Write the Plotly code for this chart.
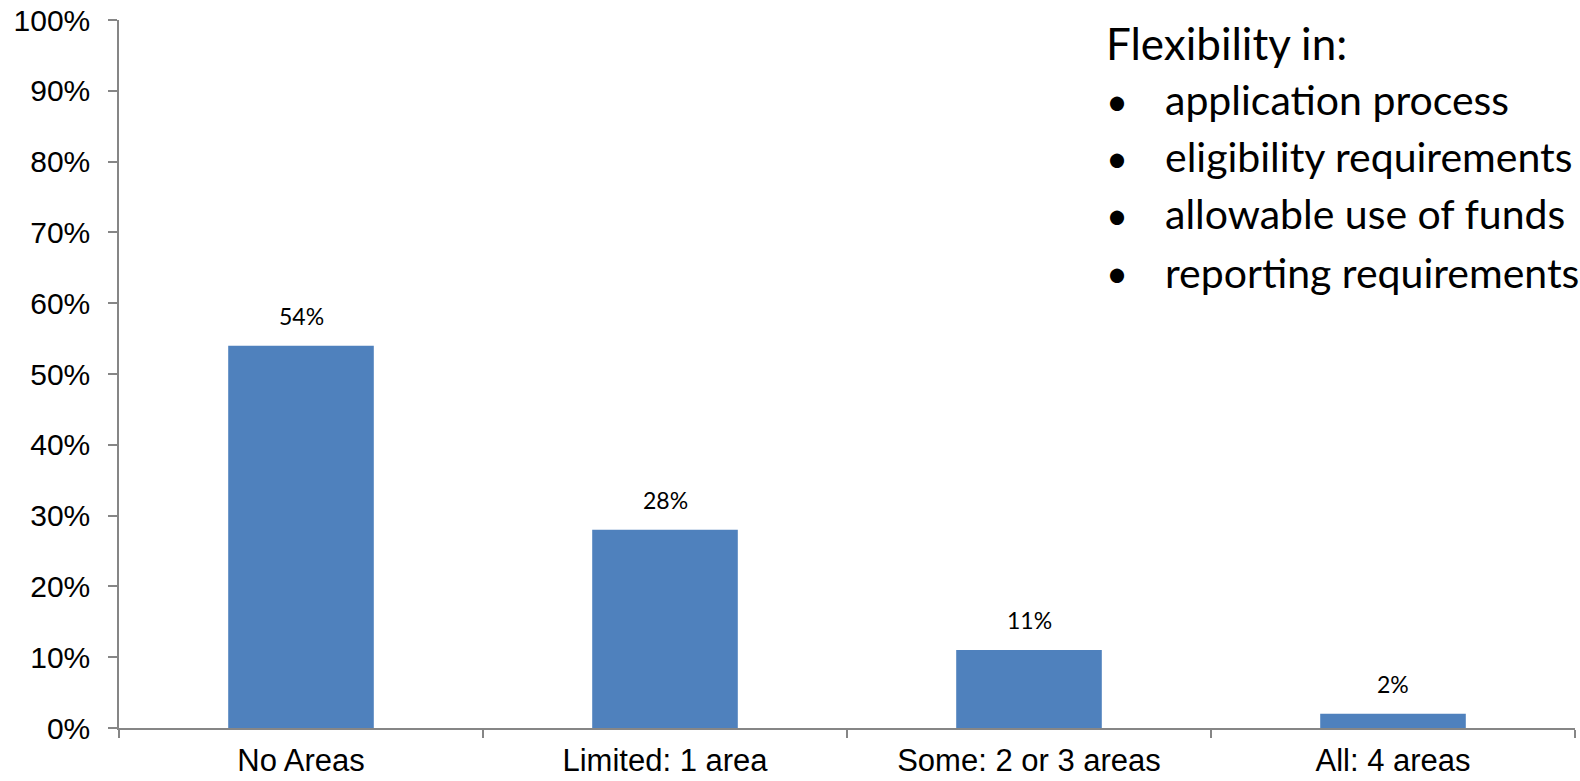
import plotly.graph_objects as go

# Share of respondents by number of flexibility areas
categories = ["No Areas", "Limited: 1 area", "Some: 2 or 3 areas", "All: 4 areas"]
shares = [0.54, 0.28, 0.11, 0.02]
share_labels = ["54%", "28%", "11%", "2%"]

note_title = "Flexibility in:"
note_items = [
    "application process",
    "eligibility requirements",
    "allowable use of funds",
    "reporting requirements",
]

W, H = 1580, 781
M_L, M_R, M_T, M_B = 119, 5, 20, 53
plot_h = H - M_T - M_B
plot_w = W - M_L - M_R

AXIS_GREY = "#868686"
BAR_BLUE = "#4F81BD"
BODY_FONT = "Lato, 'Open Sans', sans-serif"
AXIS_FONT = "'Liberation Sans', Arial, sans-serif"

fig = go.Figure(
    go.Bar(
        x=categories,
        y=shares,
        width=0.4,
        marker=dict(color=BAR_BLUE, line=dict(width=0)),
        hoverinfo="skip",
    )
)


def px_to_paper_x(px):
    return (px - M_L) / plot_w


def px_to_paper_y(py):
    return (H - M_B - py) / plot_h


annotations = []
# value labels floating above each bar
for cat, val, lab in zip(categories, shares, share_labels):
    annotations.append(
        dict(
            text=lab, x=cat, y=val, xref="x", yref="y",
            xanchor="center", yanchor="bottom", yshift=14,
            showarrow=False,
            font=dict(family=BODY_FONT, size=23, color="#000000"),
        )
    )

# note block in the upper right (centre y in pixels for each line)
line_centres = [43, 100, 157, 214, 272]
TITLE_SIZE = 44
ITEM_SIZE = 41
annotations.append(
    dict(
        text=note_title,
        x=px_to_paper_x(1104), y=px_to_paper_y(line_centres[0]),
        xref="paper", yref="paper", xanchor="left", yanchor="middle",
        showarrow=False, font=dict(family=BODY_FONT, size=TITLE_SIZE, color="#000000"),
    )
)
for item, cy in zip(note_items, line_centres[1:]):
    annotations.append(
        dict(
            text="•",
            x=px_to_paper_x(1104), y=px_to_paper_y(cy),
            xref="paper", yref="paper", xanchor="left", yanchor="middle",
            showarrow=False, font=dict(family=BODY_FONT, size=38, color="#000000"),
        )
    )
    annotations.append(
        dict(
            text=item,
            x=px_to_paper_x(1163), y=px_to_paper_y(cy),
            xref="paper", yref="paper", xanchor="left", yanchor="middle",
            showarrow=False, font=dict(family=BODY_FONT, size=ITEM_SIZE, color="#000000"),
        )
    )

fig.update_layout(
    width=W,
    height=H,
    margin=dict(l=M_L, r=M_R, t=M_T, b=M_B, pad=0),
    paper_bgcolor="white",
    plot_bgcolor="white",
    showlegend=False,
    annotations=annotations,
    xaxis=dict(
        type="category",
        automargin=False,
        showline=True,
        linecolor=AXIS_GREY,
        linewidth=1.5,
        ticks="outside",
        tickson="boundaries",
        ticklen=8,
        tickcolor=AXIS_GREY,
        tickwidth=1.5,
        showgrid=False,
        ticklabelstandoff=4,
        tickfont=dict(family=AXIS_FONT, size=31, color="#000000"),
    ),
    yaxis=dict(
        range=[0, 1],
        dtick=0.1,
        tickformat=".0%",
        automargin=False,
        showline=True,
        linecolor=AXIS_GREY,
        linewidth=1.5,
        ticks="outside",
        ticklen=9,
        tickcolor=AXIS_GREY,
        tickwidth=1.5,
        showgrid=False,
        zeroline=False,
        ticklabelstandoff=12,
        tickfont=dict(family=AXIS_FONT, size=30, color="#000000"),
    ),
)

fig.write_html("out.html")
